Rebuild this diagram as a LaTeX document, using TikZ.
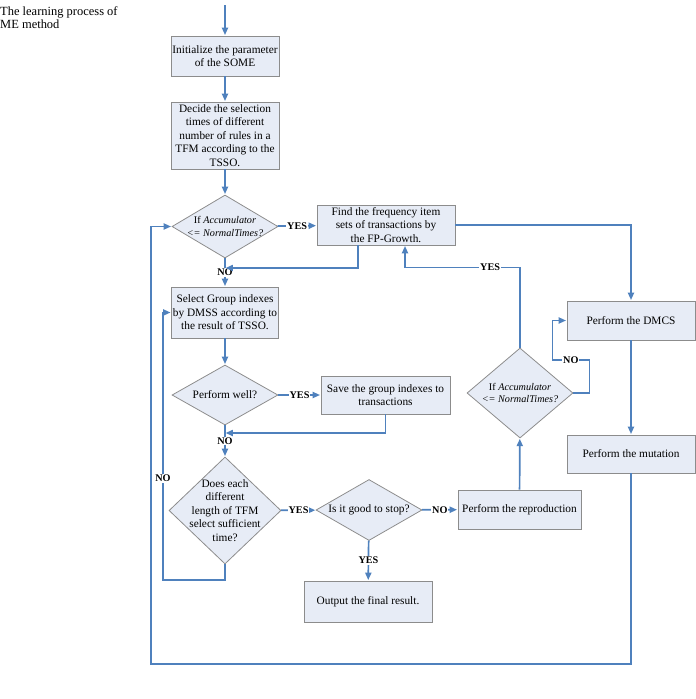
\documentclass[tikz,border=0pt]{standalone}
\usepackage{fontspec}
\setmainfont{Liberation Serif}
\usetikzlibrary{arrows.meta,shapes.geometric,calc}

\definecolor{flowblue}{RGB}{79,129,189}
\definecolor{boxfill}{RGB}{231,236,246}
\definecolor{boxline}{RGB}{140,140,140}
\newcommand{\pxu}{0.31mm}

\begin{document}
\begin{tikzpicture}[x=\pxu,y=-\pxu,>={Triangle[length=2.3mm,width=1.9mm]},shorten >=0.5pt,
    flow/.style={->,color=flowblue,line width=1.5pt},
    box node/.style={rectangle,draw=boxline,fill=boxfill,line width=0.7pt,align=center,inner sep=1pt,font=\fontsize{10}{12}\selectfont},
    test node/.style={diamond,draw=boxline,fill=boxfill,line width=0.7pt,align=center,inner sep=-10pt,font=\fontsize{10}{12}\selectfont},
    tag node/.style={fill=white,text=black,inner sep=0.8pt,font=\fontsize{9}{10}\selectfont\bfseries}]
            \useasboundingbox (0,0) rectangle (696,699);

            \node[anchor=north west,inner sep=0,align=left,font=\fontsize{11}{11.5}\selectfont] (cap) at (0,6) {The learning process of\\ME method};

            \coordinate (0) at (225,5);
            \node[box node,minimum width=108*\pxu,minimum height=40*\pxu] (1) at (225,56) {Initialize the parameter\\of the SOME};
            \node[box node,minimum width=108*\pxu,minimum height=67*\pxu] (2) at (225,135.5) {Decide the selection\\times of different\\number of rules in a\\TFM according to the\\TSSO.};
            \node[test node,font=\fontsize{9}{11}\selectfont,minimum width=106*\pxu,minimum height=63*\pxu] (3) at (225,226.5) {If \textit{Accumulator}\\\textit{\textless= NormalTimes?}};
            \node[box node,minimum width=138*\pxu,minimum height=40*\pxu] (4) at (386,225) {Find the frequency item\\sets of transactions by\\the FP-Growth.};
            \node[box node,minimum width=107*\pxu,minimum height=51*\pxu] (5) at (225,312.5) {Select Group indexes\\by DMSS according to\\the result of TSSO.};
            \node[test node,minimum width=106*\pxu,minimum height=60*\pxu] (6) at (225,395) {Perform well?};
            \node[box node,minimum width=129*\pxu,minimum height=38*\pxu] (7) at (385.5,395) {Save the group indexes to\\transactions};
            \node[test node,minimum width=112*\pxu,minimum height=107*\pxu] (8) at (225,510.5) {Does each\\different\\length of TFM\\select sufficient\\time?};
            \node[test node,minimum width=106*\pxu,minimum height=61*\pxu] (9) at (369,510) {Is it good to stop?};
            \node[box node,minimum width=128*\pxu,minimum height=41*\pxu] (10) at (368,601.5) {Output the final result.};
            \node[box node,minimum width=123*\pxu,minimum height=39*\pxu] (11) at (519.5,509.5) {Perform the reproduction};
            \node[test node,font=\fontsize{9}{11}\selectfont,minimum width=106*\pxu,minimum height=90*\pxu] (12) at (520,393) {If \textit{Accumulator}\\\textit{\textless= NormalTimes?}};
            \node[box node,minimum width=128*\pxu,minimum height=39*\pxu] (13) at (631,320.5) {Perform the DMCS};
            \node[box node,minimum width=128*\pxu,minimum height=38*\pxu] (14) at (631,454) {Perform the mutation};

            \coordinate (j1) at (225,268);
            \coordinate (j2) at (225,433);
            \coordinate (c1) at (151,664);
            \coordinate (c2) at (163,580);

            \path[flow]
                (0) edge (1)
                (1) edge (2)
                (2) edge (3)
                (3) edge node[tag node] {YES} (4)
                (3) edge node[tag node] {NO} (5)
                (5) edge (6)
                (6) edge node[tag node] {YES} (7)
                (6) edge node[tag node] {NO} (8)
                (8) edge node[tag node] {YES} (9)
                (9) edge node[tag node] {NO} (11)
                (9) edge node[tag node] {YES} (10)
                (11) edge (12)
                (13) edge (14)
            ;
            \draw[flow] ($(4.south)+(-28,0)$) |- (j1);
            \draw[flow] (7.south) |- (j2);
            \draw[flow] (4.east) -| (13.north);
            \draw[flow] (12.north) |- node[tag node,pos=0.63] {YES} ($(4.south)+(19,22)$) -- ($(4.south)+(19,0)$);
            \draw[flow] (12.east) -- ++(16,0) |- node[tag node,pos=0.75] {NO} ++(-37,-33) |- (13.west);
            \draw[flow] (14.south) |- (c1) |- (3.west);
            \draw[flow] (8.south) |- (c2) |- node[tag node,pos=0.19] {NO} (5.west);
        \end{tikzpicture}
\end{document}
